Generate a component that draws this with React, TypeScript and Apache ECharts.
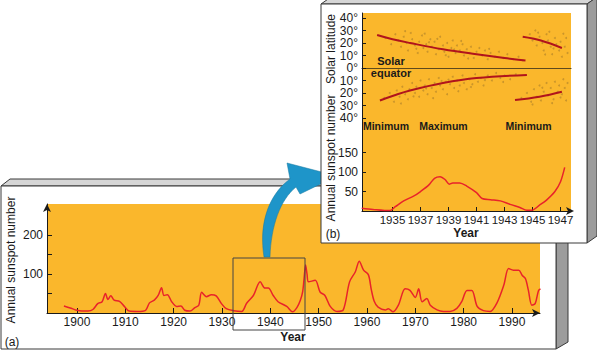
import React, { useEffect, useRef } from 'react';
import * as echarts from 'echarts';

// ---------- data ----------
// Panel (a): annual sunspot number, 1897–1996
const yearsA = [1897.3, 1898.6, 1900, 1901, 1902.3, 1903.3, 1904.3, 1905.2, 1905.9, 1906.4, 1907.0, 1907.7, 1908.8, 1909.8, 1910.8, 1912.5, 1914.2, 1915.0, 1916.0, 1916.8, 1917.5, 1918.0, 1918.7, 1919.6, 1920.6, 1921.5, 1922.3, 1923.4, 1924.4, 1925.2, 1925.8, 1926.8, 1927.8, 1928.8, 1929.9, 1930.9, 1932.4, 1934.1, 1935.1, 1936.5, 1937.9, 1938.9, 1939.6, 1940.6, 1941.6, 1943.4, 1944.6, 1945.5, 1946.2, 1946.7, 1947.0, 1947.3, 1947.6, 1947.9, 1949.3, 1950.3, 1951.3, 1952.4, 1953.8, 1955.1, 1956.4, 1957.6, 1958.4, 1959.3, 1960.3, 1960.9, 1961.5, 1962.3, 1963.8, 1964.4, 1965.4, 1966.5, 1967.9, 1968.9, 1970.0, 1970.7, 1971.4, 1972.4, 1973.1, 1974.5, 1975.8, 1977.2, 1978.6, 1979.6, 1980.7, 1981.7, 1982.8, 1984.1, 1985.5, 1986.9, 1988.3, 1989.3, 1990.3, 1991.4, 1992.1, 1992.8, 1993.4, 1994.1, 1994.8, 1995.5, 1995.9];
const sunspotA = [18, 13, 7, 5, 5, 9, 24, 29, 50, 35, 44, 33, 30, 17, 5, 4, 7, 26, 33, 45, 65, 45, 47, 29, 17, 18, 7, 5, 14, 20, 53, 42, 47, 44, 24, 11, 6, 4, 25, 45, 80, 64, 64, 45, 29, 17, 3, 14, 32, 55, 90, 123, 100, 80, 84, 54, 45, 17, 4, 8, 80, 106, 133, 110, 98, 60, 30, 15, 8, 11, 3, 20, 62, 58, 40, 62, 29, 37, 20, 8, 4, 4, 12, 29, 58, 58, 17, 6, 4, 26, 71, 114, 110, 110, 97, 88, 58, 20, 24, 58, 62];
const ticksA = [1900, 1910, 1920, 1930, 1940, 1950, 1960, 1970, 1980, 1990];
const yTicksA = [50, 100, 150, 200];
const yLabelsA = [100, 200];

// Panel (b): sunspot number 1932.8–1947.3
const yearsB = [1932.8, 1933.6, 1934.8, 1935.2, 1935.8, 1936.5, 1937.0, 1937.6, 1938.0, 1938.4, 1938.75, 1939.05, 1939.3, 1939.8, 1940.3, 1941.0, 1941.4, 1942.0, 1942.7, 1943.4, 1944.1, 1944.6, 1944.95, 1945.5, 1946.0, 1946.6, 1947.0, 1947.3];
const sunspotB = [7, 4, 1, 11, 26, 38, 50, 67, 84, 88, 81, 69, 72, 72, 64, 47, 32, 29, 26, 17, 9, 2, 2, 15, 28, 50, 75, 112];
const ticksB = [1935, 1937, 1939, 1941, 1943, 1945, 1947];
const yTicksB = [50, 100, 150];
const latTicks = [-40, -30, -20, -10, 0, 10, 20, 30, 40];

// Panel (b): latitude trend curves (year, latitude)
const upperCurve1 = [[1933.9, 26.4], [1935.0, 23], [1936.25, 20], [1938.6, 15], [1941.0, 11], [1943.0, 8], [1944.5, 6]];
const upperCurve2 = [[1944.3, 25], [1945.6, 22], [1947.1, 16]];
const lowerCurve1 = [[1934.1, -26], [1935.1, -22], [1936.25, -18], [1938.6, -12], [1941.0, -8], [1944.6, -5.6]];
const lowerCurve2 = [[1943.75, -25.6], [1945.5, -23], [1947.1, -19]];

// Panel (b): sunspot positions (butterfly dots)
const spotsNorth1 = [[1934.5, 24], [1934.9, 19], [1935.2, 27], [1935.4, 22], [1935.6, 17], [1935.8, 25], [1936.0, 20], [1936.1, 14], [1936.3, 28], [1936.4, 23], [1936.6, 18], [1936.8, 12], [1936.9, 21], [1937.1, 26], [1937.2, 16], [1937.4, 19], [1937.5, 13], [1937.7, 23], [1937.8, 17], [1938.0, 21], [1938.1, 11], [1938.3, 15], [1938.4, 25], [1938.6, 18], [1938.7, 13], [1938.9, 20], [1939.0, 9], [1939.2, 16], [1939.3, 22], [1939.5, 12], [1939.6, 18], [1939.8, 14], [1940.0, 19], [1940.1, 10], [1940.3, 15], [1940.5, 12], [1940.6, 17], [1940.8, 8], [1941.0, 13], [1941.2, 16], [1941.4, 10], [1941.6, 14], [1941.8, 7], [1942.0, 12], [1942.3, 9], [1942.6, 13], [1942.9, 8], [1943.2, 11], [1943.6, 7], [1944.0, 9], [1944.3, 6], [1935.9, 29.5], [1937.3, 27.5], [1938.2, 23.3], [1939.9, 21.6], [1936.7, 15.4], [1938.8, 10.2], [1940.4, 7.6], [1941.9, 15.3], [1937.6, 20.6], [1939.4, 14.8]];
const spotsSouth1 = [[1934.4, -24], [1934.8, -20], [1935.1, -27], [1935.3, -18], [1935.5, -23], [1935.7, -15], [1935.9, -21], [1936.1, -25], [1936.2, -17], [1936.4, -12], [1936.6, -20], [1936.7, -15], [1936.9, -23], [1937.0, -10], [1937.2, -18], [1937.3, -14], [1937.5, -21], [1937.6, -9], [1937.8, -16], [1938.0, -12], [1938.1, -19], [1938.3, -8], [1938.4, -14], [1938.6, -17], [1938.8, -11], [1938.9, -21], [1939.1, -13], [1939.3, -7], [1939.4, -16], [1939.6, -10], [1939.8, -14], [1940.0, -6], [1940.1, -12], [1940.3, -17], [1940.5, -9], [1940.7, -13], [1940.9, -5], [1941.1, -11], [1941.3, -8], [1941.5, -14], [1941.8, -6], [1942.1, -10], [1942.4, -4], [1942.7, -8], [1943.0, -6], [1943.4, -9], [1943.8, -5], [1935.6, -28.4], [1936.5, -22.7], [1937.4, -16.3], [1938.5, -10.4], [1939.7, -18.6], [1940.6, -15.2], [1937.9, -24.1], [1939.0, -9.3], [1941.6, -9.7], [1942.9, -11.2]];
const spotsNorth2 = [[1944.8, 27], [1945.0, 22], [1945.2, 30], [1945.3, 18], [1945.5, 25], [1945.7, 20], [1945.8, 14], [1946.0, 27], [1946.1, 22], [1946.2, 29], [1946.3, 17], [1946.4, 11], [1946.6, 24], [1946.7, 19], [1946.9, 14], [1947.0, 21], [1947.1, 9], [1947.3, 17], [1947.4, 24], [1947.5, 12], [1945.4, 28.3], [1946.5, 15.6], [1947.2, 27.4], [1945.9, 10.8]];
const spotsSouth2 = [[1944.2, -24], [1944.6, -20], [1944.9, -27], [1945.1, -17], [1945.3, -23], [1945.5, -14], [1945.6, -26], [1945.8, -19], [1946.0, -12], [1946.1, -22], [1946.3, -16], [1946.5, -25], [1946.6, -11], [1946.8, -19], [1946.9, -14], [1947.1, -21], [1947.2, -9], [1947.3, -16], [1947.4, -26], [1947.5, -12], [1945.0, -29.2], [1946.4, -28.1], [1947.0, -23.6], [1945.7, -15.8]];

// ---------- styles ----------
const FONT = '"Liberation Sans", Arial, Helvetica, sans-serif';
const ORANGE = '#FAB72C';
const RED = '#E8232A';
const DARKRED = '#B0141C';
const INK = '#1a1a1a';
const BEVEL = '#D6D6D6';
const SIDE = '#9C9C9C';
const EDGE = '#3a3a3a';

const ARROW_PATH = 'M 264 257 C 259 226 267 196 290 179 L 287 163 L 337 176 L 300 194 L 296 187 C 280 200 271 226 270 257 Z';

let registered = false;
function registerArrow() {
  if (registered) return;
  echarts.graphic.registerShape('bigArrow', echarts.graphic.extendPath(ARROW_PATH, {}) as any);
  registered = true;
}

function text(x: number, y: number, t: string, opts: any = {}) {
  return {
    type: 'text',
    x,
    y,
    rotation: opts.rotation || 0,
    z: opts.z ?? 10,
    style: {
      text: t,
      fill: opts.fill || INK,
      fontFamily: FONT,
      fontSize: opts.fontSize || 12,
      fontWeight: opts.fontWeight || 'normal',
      textAlign: 'center',
      textVerticalAlign: 'middle',
    },
  };
}

const plain = (v: number) => String(v);

export default function App() {
  const ref = useRef<HTMLDivElement>(null);

  useEffect(() => {
    if (!ref.current) return;
    registerArrow();
    const chart = echarts.init(ref.current, undefined, { renderer: 'svg' });

    const axisLineStyle = { color: INK, width: 1 };

    const option: any = {
      animation: false,
      textStyle: { fontFamily: FONT },
      grid: [
        { left: 47, top: 204, width: 493, height: 109, show: true, backgroundColor: ORANGE, borderWidth: 0, z: 1 },
        { left: 362, top: 13, width: 209, height: 110, show: true, backgroundColor: ORANGE, borderWidth: 0, z: 6 },
        { left: 362, top: 123, width: 209, height: 88, show: true, backgroundColor: ORANGE, borderWidth: 0, z: 6 },
      ],
      xAxis: [
        {
          gridIndex: 0, type: 'value', min: 1893.8, max: 1995.8, z: 2,
          axisLine: { show: true, onZero: false, lineStyle: axisLineStyle, symbol: ['none', 'arrow'], symbolSize: [6, 8] },
          axisTick: { show: true, inside: true, length: 5, customValues: ticksA, lineStyle: { color: INK } },
          axisLabel: { customValues: ticksA, formatter: plain, fontSize: 12, color: INK, margin: 3, fontFamily: FONT },
          splitLine: { show: false },
        },
        {
          gridIndex: 1, type: 'value', min: 1932.82, max: 1947.75, z: 7,
          axisLine: { show: true, onZero: true, lineStyle: { color: '#5e4a1c', width: 1.2 } },
          axisTick: { show: false },
          axisLabel: { show: false },
          splitLine: { show: false },
        },
        {
          gridIndex: 2, type: 'value', min: 1932.82, max: 1947.75, z: 7,
          axisLine: { show: true, onZero: false, lineStyle: axisLineStyle, symbol: ['none', 'arrow'], symbolSize: [6, 8], symbolOffset: [0, 3] },
          axisTick: { show: true, inside: true, length: 4, customValues: ticksB, lineStyle: { color: INK } },
          axisLabel: { customValues: ticksB, formatter: plain, fontSize: 11.5, color: INK, margin: 3, fontFamily: FONT, hideOverlap: false, showMinLabel: true, showMaxLabel: true },
          splitLine: { show: false },
        },
      ],
      yAxis: [
        {
          gridIndex: 0, type: 'value', min: 0, max: 280, z: 2,
          axisLine: { show: true, lineStyle: axisLineStyle, symbol: ['none', 'arrow'], symbolSize: [6, 8] },
          axisTick: { show: true, inside: true, length: 5, customValues: yTicksA, lineStyle: { color: INK } },
          axisLabel: { customValues: yLabelsA, formatter: plain, fontSize: 12, color: INK, margin: 4, fontFamily: FONT },
          splitLine: { show: false },
        },
        {
          gridIndex: 1, type: 'value', min: -44, max: 44, z: 7,
          axisLine: { show: true, lineStyle: axisLineStyle },
          axisTick: { show: true, inside: true, length: 4, customValues: latTicks, lineStyle: { color: INK } },
          axisLabel: {
            customValues: latTicks, fontSize: 12, color: INK, margin: 4, fontFamily: FONT,
            formatter: (v: number) => Math.abs(v) + '°',
          },
          splitLine: { show: false },
        },
        {
          gridIndex: 2, type: 'value', min: 0, max: 226, z: 7,
          axisLine: { show: true, lineStyle: axisLineStyle },
          axisTick: { show: true, inside: true, length: 4, customValues: yTicksB, lineStyle: { color: INK } },
          axisLabel: { customValues: yTicksB, formatter: plain, fontSize: 12, color: INK, margin: 4, fontFamily: FONT },
          splitLine: { show: false },
        },
      ],
      series: [
        {
          type: 'line', xAxisIndex: 0, yAxisIndex: 0, z: 3,
          data: yearsA.map((y, i) => [y, sunspotA[i]]),
          smooth: 0.3, showSymbol: false,
          lineStyle: { color: RED, width: 1.5 },
        },
        {
          type: 'scatter', xAxisIndex: 1, yAxisIndex: 1, z: 8,
          data: [...spotsNorth1, ...spotsSouth1, ...spotsNorth2, ...spotsSouth2],
          symbolSize: 2,
          itemStyle: { color: 'rgba(150,112,42,0.6)' },
        },
        ...[upperCurve1, upperCurve2, lowerCurve1, lowerCurve2].map((d) => ({
          type: 'line', xAxisIndex: 1, yAxisIndex: 1, z: 9,
          data: d, smooth: 0.4, showSymbol: false,
          lineStyle: { color: DARKRED, width: 2 },
        })),
        {
          type: 'line', xAxisIndex: 2, yAxisIndex: 2, z: 9,
          data: yearsB.map((y, i) => [y, sunspotB[i]]),
          smooth: 0.3, showSymbol: false,
          lineStyle: { color: RED, width: 1.5 },
        },
      ],
      graphic: {
        elements: [
          // Panel (a) 3D box
          { type: 'polygon', z: 0, shape: { points: [[1, 186], [10, 179], [568, 179], [556, 186]] }, style: { fill: BEVEL, stroke: EDGE, lineWidth: 1 } },
          { type: 'polygon', z: 0, shape: { points: [[556, 186], [568, 179], [568, 342], [556, 349]] }, style: { fill: SIDE, stroke: EDGE, lineWidth: 1 } },
          { type: 'rect', z: 0, shape: { x: 1, y: 186, width: 555, height: 163 }, style: { fill: '#fff', stroke: EDGE, lineWidth: 1 } },
          // Panel (a) texts
          text(10.5, 260, 'Annual sunspot number', { rotation: Math.PI / 2, z: 4 }),
          text(12, 342, '(a)', { z: 4 }),
          text(293, 337, 'Year', { fontWeight: 'bold', z: 4 }),
          // zoom box
          { type: 'rect', z: 4, shape: { x: 233, y: 258, width: 72, height: 72 }, style: { fill: 'none', stroke: '#444', lineWidth: 1 } },
          // arrow
          { type: 'bigArrow', z: 4, x: 0, y: 0, scaleX: 1, scaleY: 1, style: { fill: '#1E95C9', stroke: '#17789f', lineWidth: 0.5 } },
          // Panel (b) 3D box
          { type: 'polygon', z: 5, shape: { points: [[321, 4], [331, -3], [597, -3], [587, 4]] }, style: { fill: BEVEL, stroke: EDGE, lineWidth: 1 } },
          { type: 'polygon', z: 5, shape: { points: [[587, 4], [597, -3], [597, 236], [587, 243]] }, style: { fill: SIDE, stroke: EDGE, lineWidth: 1 } },
          { type: 'rect', z: 5, shape: { x: 321, y: 4, width: 266, height: 239 }, style: { fill: '#fff', stroke: EDGE, lineWidth: 1 } },
          // Panel (b) texts
          text(331, 49, 'Solar latitude', { rotation: Math.PI / 2 }),
          text(331, 158, 'Annual sunspot number', { rotation: Math.PI / 2 }),
          text(333, 234, '(b)'),
          text(466, 233, 'Year', { fontWeight: 'bold' }),
          text(391, 61, 'Solar', { fontWeight: 'bold', fontSize: 11 }),
          text(391, 73, 'equator', { fontWeight: 'bold', fontSize: 11 }),
          text(386, 126, 'Minimum', { fontWeight: 'bold', fontSize: 10.5 }),
          text(443.5, 126, 'Maximum', { fontWeight: 'bold', fontSize: 10.5 }),
          text(528.5, 126, 'Minimum', { fontWeight: 'bold', fontSize: 10.5 }),
        ],
      },
    };

    chart.setOption(option);
    return () => chart.dispose();
  }, []);

  return (
    <div
      ref={ref}
      style={{ position: 'absolute', left: 0, top: 0, width: 597, height: 351, background: '#fff' }}
    />
  );
}
